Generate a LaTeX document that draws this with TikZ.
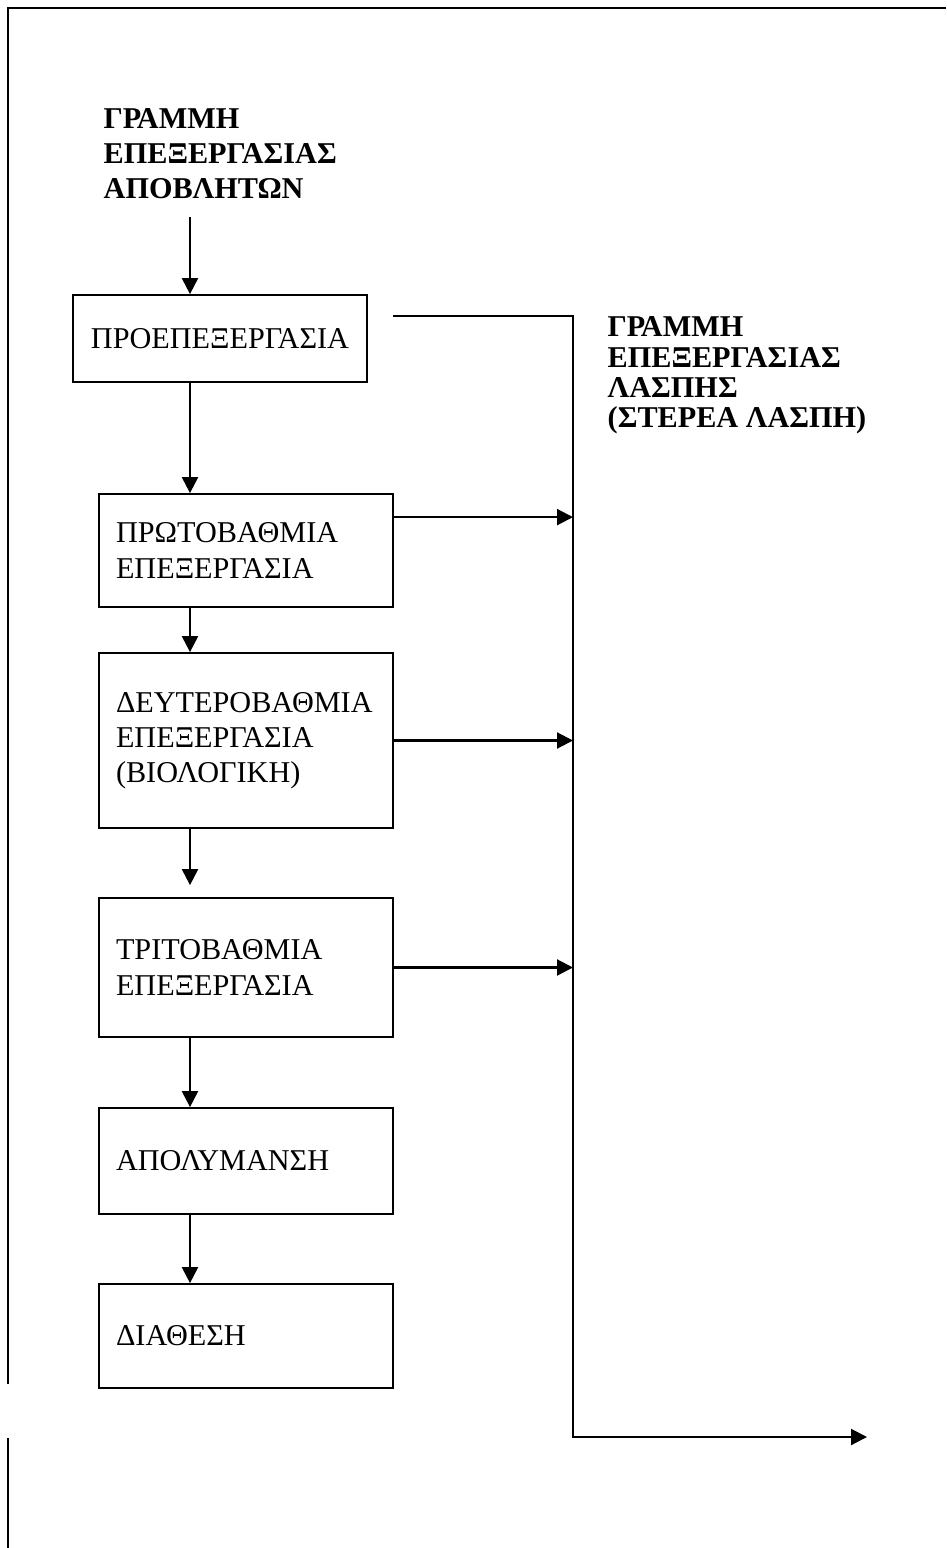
\documentclass[tikz,border=0pt]{standalone}
\usepackage{fontspec}
\setmainfont{Liberation Serif}
\usetikzlibrary{positioning,arrows.meta}
\tikzset{>={Triangle[width=1.6mm,length=1.6mm]}}
\tikzset{
    stage/.style={draw, line width=0.5pt, minimum width=2.94cm, text width=2.6cm,
        align=left, inner sep=0pt, font=\fontsize{8.6}{10}\selectfont},
    heading/.style={align=left, inner sep=0pt, font=\bfseries\fontsize{8.6}{10}\selectfont},
    flow/.style={->, line width=0.6pt},
}

\begin{document}
\begin{tikzpicture}
        \useasboundingbox (0,0) rectangle (9.46,-15.48);
        % frame
        \draw[line width=0.6pt] (9.46,-0.08) -- (0.08,-0.08) -- (0.08,-13.84);
        \draw[line width=0.6pt] (0.08,-14.38) -- (0.08,-15.48);
        % water line
        \coordinate (col) at (1.90,0);
        \node[heading, anchor=west] (title) at (1.03,-1.54) {ΓΡΑΜΜΗ\\ΕΠΕΞΕΡΓΑΣΙΑΣ\\ΑΠΟΒΛΗΤΩΝ};
        \node[stage, align=center, minimum height=0.87cm] (b1) at (2.20,-3.385) {ΠΡΟΕΠΕΞΕΡΓΑΣΙΑ};
        \node[stage, minimum height=1.13cm] (b2) at (2.46,-5.505) {ΠΡΩΤΟΒΑΘΜΙΑ\\ΕΠΕΞΕΡΓΑΣΙΑ};
        \node[stage, minimum height=1.75cm] (b3) at (2.46,-7.405) {ΔΕΥΤΕΡΟΒΑΘΜΙΑ\\ΕΠΕΞΕΡΓΑΣΙΑ\\(ΒΙΟΛΟΓΙΚΗ)};
        \node[stage, minimum height=1.39cm] (b4) at (2.46,-9.675) {ΤΡΙΤΟΒΑΘΜΙΑ\\ΕΠΕΞΕΡΓΑΣΙΑ};
        \node[stage, minimum height=1.06cm] (b5) at (2.46,-11.61) {ΑΠΟΛΥΜΑΝΣΗ};
        \node[stage, minimum height=1.04cm] (b6) at (2.46,-13.36) {ΔΙΑΘΕΣΗ};
        \draw[flow, shorten <=0.17cm] (title.south -| col) -- (b1.north -| col);
        \draw[flow] (b1.south -| col) -- (b2.north -| col);
        \draw[flow] (b2.south -| col) -- (b3.north -| col);
        \draw[flow, shorten >=0.12cm] (b3.south -| col) -- (b4.north -| col);
        \draw[flow] (b4.south -| col) -- (b5.north -| col);
        \draw[flow] (b5.south -| col) -- (b6.north -| col);
        % sludge line
        \node[heading, anchor=west, font=\bfseries\fontsize{8.6}{8.6}\selectfont] (sludge) at (6.07,-3.755)
            {ΓΡΑΜΜΗ\\ΕΠΕΞΕΡΓΑΣΙΑΣ\\ΛΑΣΠΗΣ\\(ΣΤΕΡΕΑ ΛΑΣΠΗ)};
        \coordinate (s0) at (3.93,-3.16);
        \coordinate (s1) at (5.73,-3.16);
        \coordinate (s2) at (5.73,-14.37);
        \coordinate (s3) at (8.67,-14.37);
        \draw[flow] (s0) -- (s1) -- (s2) -- (s3);
        \coordinate (b2out) at ([yshift=-0.24cm]b2.north east);
        \draw[flow] (b2out) -- (b2out -| s1);
        \draw[flow] (b3.east) -- (b3.east -| s1);
        \draw[flow] (b4.east) -- (b4.east -| s1);
    \end{tikzpicture}
\end{document}
